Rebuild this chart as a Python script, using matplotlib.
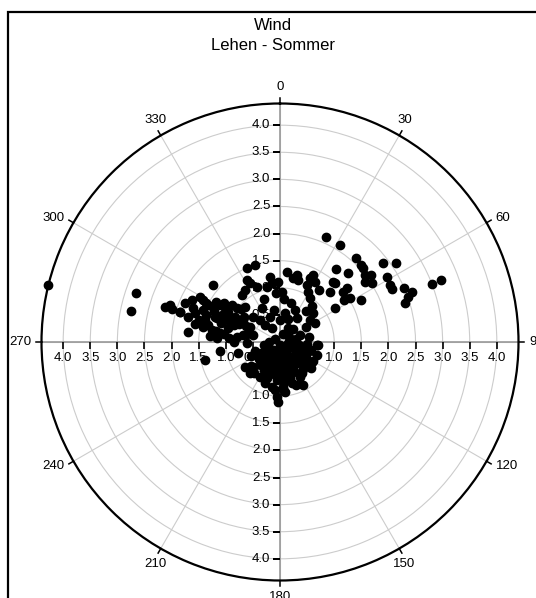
import matplotlib
matplotlib.use('Agg')
import matplotlib.pyplot as plt
import numpy as np
from matplotlib.patches import Rectangle

plt.rcParams['font.family'] = ['Liberation Sans', 'DejaVu Sans']

TITLE = 'Wind'
SUBTITLE = 'Lehen - Sommer'
ANGLE_TICKS = [0, 30, 60, 90, 120, 150, 180, 210, 240, 270, 300, 330]
RADIAL_TICKS = [0.5, 1.0, 1.5, 2.0, 2.5, 3.0, 3.5, 4.0]
R_MAX = 4.4

# wind direction (deg) and speed (m/s)
direction_outer = [
    283.9, 288.9, 281.8, 286.8, 288.4, 286.8, 286.5, 287.0, 295.4, 299.5,
    298.7, 291.2, 288.7, 292.6, 297.3, 297.9, 301.7, 301.5, 307.5, 307.9,
    315.2, 286.3, 283.3, 290.5, 294.8, 293.0, 299.4, 300.9, 281.3, 280.0,
    278.3, 273.3, 276.4, 277.0, 297.0, 284.7, 317.7, 331.5, 338.4, 318.6,
    261.5, 254.8, 256.5, 310.5, 320.8, 326.0, 335.9, 342.2, 331.8, 332.9,
    337.2, 351.3, 352.0, 346.5, 358.4, 1.9, 5.4, 14.0, 11.8, 16.4,
    26.4, 25.2, 30.1, 25.1, 29.4, 34.5, 41.9, 49.2, 53.7, 61.9,
    23.6, 31.7, 41.8, 46.3, 48.5, 52.7, 55.8, 37.6, 44.6, 51.8,
    53.8, 54.6, 57.4, 41.2, 43.1, 51.2, 51.3, 58.0, 56.9, 62.8,
    44.8, 58.5, 36.9, 58.5, 62.6, 64.9, 66.6, 69.1, 70.5, 72.8,
    69.1, 69.0,
]
speed_outer = [
    4.40, 2.81, 2.81, 2.21, 2.14, 2.09, 1.92, 1.92, 1.80, 1.70,
    1.61, 1.72, 1.66, 1.53, 1.49, 1.39, 1.30, 1.19, 1.12, 1.01,
    0.92, 1.44, 1.36, 1.25, 1.18, 1.04, 0.95, 0.79, 1.44, 1.28,
    1.12, 1.17, 1.70, 0.80, 0.62, 0.51, 0.55, 0.71, 0.50, 0.42,
    1.12, 0.80, 1.42, 1.62, 1.12, 1.16, 1.50, 1.50, 1.30, 1.22,
    1.11, 1.22, 1.09, 1.05, 1.11, 0.93, 1.30, 1.27, 1.20, 1.19,
    1.38, 1.30, 1.29, 1.16, 1.06, 0.98, 0.88, 0.81, 0.69, 0.73,
    2.11, 2.10, 2.09, 2.06, 2.05, 2.39, 2.58, 1.69, 1.79, 2.00,
    2.09, 1.92, 2.01, 1.48, 1.48, 1.58, 1.48, 1.52, 1.42, 1.69,
    1.31, 1.19, 1.20, 2.31, 2.28, 2.29, 2.49, 2.60, 2.51, 2.41,
    3.00, 3.19,
]

direction_west = [
    285, 290, 295, 280, 285, 275, 290, 300, 305, 295,
    280, 270, 275, 298, 305, 310, 285, 292, 282, 288,
    296, 278, 302, 291, 284, 312, 268, 294,
]
speed_west = [
    1.55, 1.45, 1.35, 1.20, 1.00, 0.95, 0.90, 1.10, 1.25, 0.70,
    0.70, 0.85, 1.30, 1.55, 0.80, 0.95, 1.75, 1.90, 1.60, 1.15,
    1.02, 1.05, 1.40, 1.28, 0.62, 0.68, 0.60, 0.82,
]

direction_core = [
    186.0, 183.5, 181.6, 175.8, 164.2, 151.5, 200.1, 223.8, 234.8, 94.7,
    174.3, 227.2, 205.6, 121.9, 113.0, 141.9, 155.9, 163.9, 147.4,
    150, 155, 160, 160, 165, 165, 170, 170, 170, 175,
    175, 178, 180, 180, 180, 183, 185, 185, 188, 190,
    190, 195, 195, 200, 200, 205, 210, 210, 215, 220,
    225, 230, 235, 240, 245, 250, 140, 135, 130, 125,
    120, 115, 110, 105, 100, 95, 90, 80, 70, 60,
    145, 150, 140, 130, 120, 200, 210, 190, 175, 160,
    185, 165, 200, 220, 140, 120, 100, 250, 260, 270,
    230, 220, 155, 195, 205, 175, 300, 20, 45, 30,
    330, 0, 10, 350, 60, 80, 95, 110,
    15, 25, 35, 5, 355, 340, 20, 40,
]
speed_core = [
    0.89, 1.01, 1.10, 0.83, 0.79, 0.90, 0.71, 0.80, 0.79, 0.68,
    0.92, 0.67, 0.64, 0.69, 0.53, 0.50, 0.60, 0.67, 0.69,
    0.45, 0.60, 0.30, 0.55, 0.70, 0.40, 0.20, 0.50, 0.65, 0.35,
    0.75, 0.55, 0.15, 0.45, 0.62, 0.30, 0.50, 0.70, 0.40, 0.25,
    0.60, 0.45, 0.55, 0.35, 0.65, 0.50, 0.30, 0.60, 0.45, 0.55,
    0.35, 0.50, 0.30, 0.40, 0.60, 0.25, 0.35, 0.50, 0.60, 0.40,
    0.55, 0.30, 0.45, 0.60, 0.35, 0.50, 0.25, 0.30, 0.40, 0.20,
    0.70, 0.75, 0.65, 0.75, 0.70, 0.80, 0.75, 0.85, 0.90, 0.85,
    0.20, 0.15, 0.15, 0.20, 0.20, 0.20, 0.15, 0.50, 0.30, 0.20,
    0.70, 0.75, 0.25, 0.35, 0.25, 0.05, 0.10, 0.15, 0.35, 0.30,
    0.30, 0.40, 0.55, 0.60, 0.55, 0.55, 0.70, 0.72,
    0.75, 0.65, 0.55, 0.80, 0.90, 0.85, 0.45, 0.75,
]

direction = np.array(direction_outer + direction_west + direction_core)
speed = np.array(speed_outer + speed_west + speed_core)

fig = plt.figure(figsize=(5.36, 5.98), dpi=100)
ax = fig.add_axes([41.5 / 536, 17.5 / 598, 477 / 536, 477 / 598], projection='polar')
ax.set_theta_zero_location('N')
ax.set_theta_direction(-1)
ax.set_ylim(0, R_MAX)

ax.set_thetagrids(ANGLE_TICKS, [''] * len(ANGLE_TICKS))
ax.set_rgrids(RADIAL_TICKS, labels=[''] * len(RADIAL_TICKS))
ax.grid(True, color='#cccccc', linewidth=0.8)
ax.spines['polar'].set_linewidth(1.6)
ax.spines['polar'].set_color('black')

# short outward ticks on the outer circle, labels just beyond them
for th in ANGLE_TICKS:
    t = np.deg2rad(th)
    ax.plot([t, t], [R_MAX, R_MAX * 1.022], color='black',
            linewidth=1.1, clip_on=False, zorder=3)
    s, c = np.sin(t), np.cos(t)
    ha = 'left' if s > 0.6 else ('right' if s < -0.6 else 'center')
    va = 'bottom' if c > 0.6 else ('top' if c < -0.6 else 'center')
    ax.annotate(str(th), (t, R_MAX), xytext=(7.5 * s, 7.5 * c),
                textcoords='offset points', ha=ha, va=va,
                fontsize=9.5, annotation_clip=False)

# cross axes through the centre with ticks and labels
for th in [0, 90, 180, 270]:
    ax.plot([np.deg2rad(th)] * 2, [0, R_MAX], color='#999999', linewidth=1.2, zorder=2)

tick_r = np.array(RADIAL_TICKS)
for th in [0, 180]:
    ax.plot(np.full(len(tick_r), np.deg2rad(th)), tick_r, ls='none',
            marker=0, ms=5, mew=1.2, color='black', zorder=2)
    for r in RADIAL_TICKS:
        ax.annotate(f'{r:.1f}', (np.deg2rad(th), r), xytext=(-7, 0),
                    textcoords='offset points', ha='right', va='center',
                    fontsize=9.5, zorder=2)
for th in [90, 270]:
    ax.plot(np.full(len(tick_r), np.deg2rad(th)), tick_r, ls='none',
            marker=3, ms=5, mew=1.2, color='black', zorder=2)
    for r in RADIAL_TICKS:
        ax.annotate(f'{r:.1f}', (np.deg2rad(th), r), xytext=(0, -7),
                    textcoords='offset points', ha='center', va='top',
                    fontsize=9.5, zorder=2)

ax.plot(np.deg2rad(direction), speed, ls='none', marker='o', ms=6,
        color='black', zorder=5, clip_on=False)

fig.text(273 / 536, 1 - 26 / 598, TITLE, ha='center', va='center', fontsize=12)
fig.text(273 / 536, 1 - 45 / 598, SUBTITLE, ha='center', va='center', fontsize=12)

fig.add_artist(Rectangle((7.5 / 536, -0.1), 1.2, 1.1 - 12.5 / 598,
                         transform=fig.transFigure, fill=False,
                         edgecolor='black', linewidth=1.6))

fig.savefig('out.png', dpi=100)
